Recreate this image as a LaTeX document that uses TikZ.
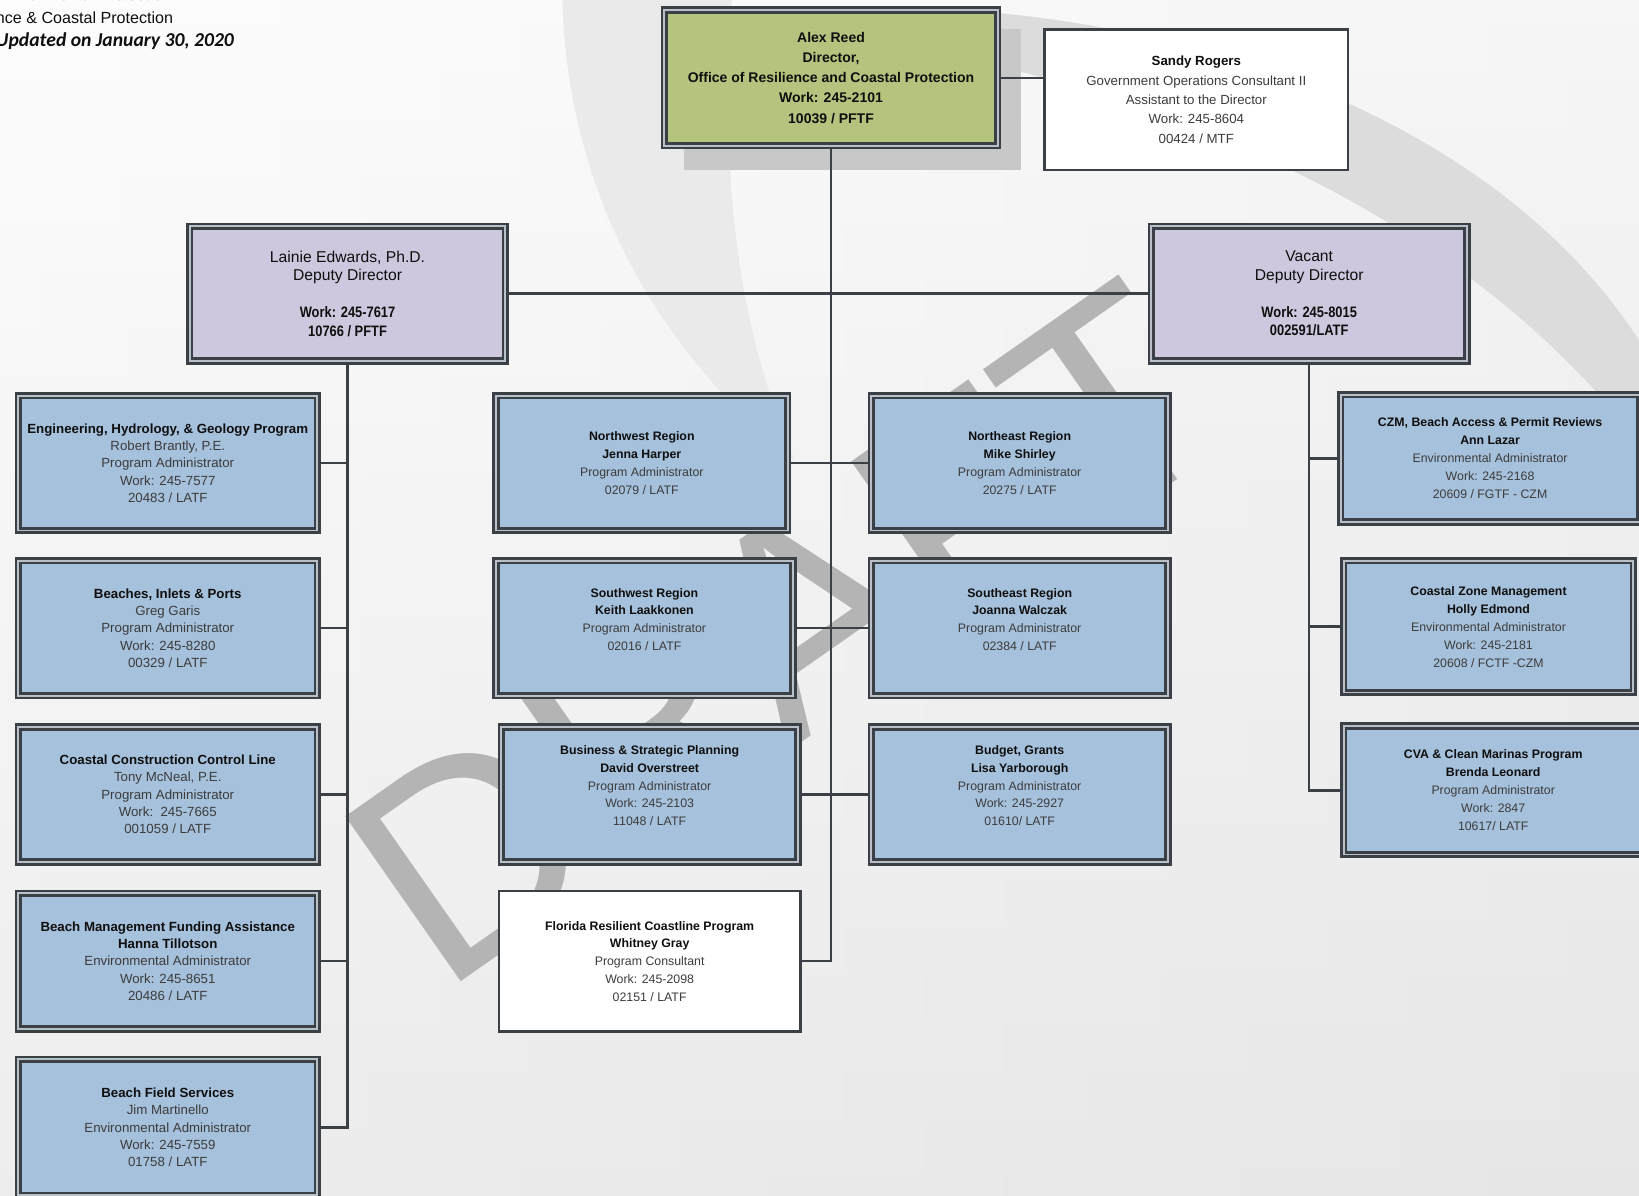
\documentclass[tikz,border=0pt]{standalone}
\usepackage{fontspec}
\setmainfont{Liberation Sans}
\newfontfamily\narfont{Liberation Sans}[FakeStretch=0.85]
\newfontfamily\calfont{Carlito}
\definecolor{dk}{RGB}{58,64,70}
\definecolor{gapc}{RGB}{186,192,200}
\definecolor{boxblue}{RGB}{166,193,220}
\definecolor{boxlav}{RGB}{206,200,222}
\definecolor{boxgreen}{RGB}{180,195,125}
\definecolor{shadowc}{RGB}{200,200,200}
\definecolor{tg}{RGB}{60,60,60}
\definecolor{tb}{RGB}{15,15,15}
\definecolor{wm}{RGB}{180,180,180}
\definecolor{bandA}{RGB}{220,220,220}
\definecolor{bandB}{RGB}{234,234,234}
\definecolor{bgtop}{RGB}{252,252,252}
\definecolor{bgbot}{RGB}{228,228,228}
\newcommand\hd[1]{\textcolor{tb}{\textbf{#1}}}
\newcommand\nb[1]{{\narfont\bfseries\fontsize{14.5}{17.7}\selectfont #1}}
\begin{document}
\begin{tikzpicture}[x=1pt,y=-1pt,
  conn/.style={draw=dk, line width=2.4pt},
  dbox/.style={draw=dk, double=gapc, double distance=1.8pt, line width=2.6pt,
    inner sep=0pt, outer sep=3.5pt, align=center, text=tg},
  bluebox/.style={dbox, fill=boxblue},
  lavbox/.style={dbox, fill=boxlav, text=tb, font=\fontsize{15}{17.7}\selectfont},
  sbox/.style={draw=dk, line width=2.2pt, fill=white, inner sep=0pt, outer sep=1.1pt,
    align=center, text=tg},
  dwh/.style 2 args={minimum width=#1-7, minimum height=#2-7},
  swh/.style 2 args={minimum width=#1-2.2, minimum height=#2-2.2},
  lft/.style={font=\fontsize{12.7}{16.6}\selectfont},
  mid/.style={font=\fontsize{11.8}{17}\selectfont},
  rgt/.style={font=\fontsize{11.8}{17.2}\selectfont},
  hdr/.style={anchor=base east, inner sep=0pt, text=tb}]
\useasboundingbox (0,0) rectangle (1568,1144);
\clip (0,0) rectangle (1568,1144);
% background
\shade[top color=bgtop, bottom color=bgbot] (0,0) rectangle (1568,1144);
\shade[left color=white, right color=white!92!black, opacity=0.35] (0,0) rectangle (1568,1144);
\fill[bandA] (950,12) .. controls (1200,35) and (1460,140) .. (1580,345)
  -- (1580,440) .. controls (1450,260) and (1230,130) .. (950,62) -- cycle;
\fill[bandB] (538,0) .. controls (542,160) and (610,320) .. (760,440)
  .. controls (700,300) and (690,150) .. (700,0) -- cycle;
% watermark
\node[anchor=base west, rotate=35, inner sep=0pt, text=wm,
  font=\fontsize{280}{280}\selectfont] (wmark) at (422,952) {DRAFT};
% header
\node[hdr, font=\fontsize{15.4}{16}\selectfont] (h1) at (164,0.8)
  {Florida Department of Environmental Protection};
\node[hdr, font=\fontsize{15.4}{16}\selectfont] (h2) at (165.8,22.3)
  {Office of Resilience \& Coastal Protection};
\node[hdr, font=\calfont\bfseries\itshape\fontsize{18.8}{20}\selectfont] (h3) at (224,44.7)
  {Updated on January 30, 2020};
% director
\fill[shadowc] (654,28) rectangle (977,163);
\node[dbox, fill=boxgreen, text=tb, dwh={326}{137},
  font=\bfseries\fontsize{13.4}{19.3}\selectfont] (alex) at (795,74.5)
  {Alex Reed\\Director,\\Office of Resilience and Coastal Protection\\Work: 245-2101\\10039 / PFTF};
\node[sbox, swh={293}{137}, font=\fontsize{12.7}{18.5}\selectfont] (sandy) at (1144.5,95.5)
  {\hd{Sandy Rogers}\\Government Operations Consultant II\\Assistant to the Director\\Work: 245-8604\\00424 / MTF};
% deputies
\node[lavbox, dwh={309}{136}] (lai) at (332.5,281)
  {Lainie Edwards, Ph.D.\\Deputy Director\\[17.7pt]\nb{Work: 245-7617}\\\nb{10766 / PFTF}};
\node[lavbox, dwh={309}{136}] (vac) at (1252.5,281)
  {Vacant\\Deputy Director\\[17.7pt]\nb{Work: 245-8015}\\\nb{002591/LATF}};
% left column
\node[bluebox, lft, dwh={293}{136}] (eng) at (160.5,443)
  {\hd{Engineering, Hydrology, \& Geology Program}\\Robert Brantly, P.E.\\Program Administrator\\Work: 245-7577\\20483 / LATF};
\node[bluebox, lft, dwh={293}{136}] (bip) at (160.5,601)
  {\hd{Beaches, Inlets \& Ports}\\Greg Garis\\Program Administrator\\Work: 245-8280\\00329 / LATF};
\node[bluebox, lft, dwh={293}{136}] (cccl) at (160.5,760)
  {\hd{Coastal Construction Control Line}\\Tony McNeal, P.E.\\Program Administrator\\Work:\ \ 245-7665\\001059 / LATF};
\node[bluebox, lft, dwh={293}{137}] (bmfa) at (160.5,919.5)
  {\hd{Beach Management Funding Assistance}\\\hd{Hanna Tillotson}\\Environmental Administrator\\Work: 245-8651\\20486 / LATF};
\node[bluebox, lft, dwh={293}{137}] (bfs) at (160.5,1078.5)
  {\hd{Beach Field Services}\\Jim Martinello\\Environmental Administrator\\Work: 245-7559\\01758 / LATF};
% middle columns
\node[bluebox, mid, dwh={286}{136}] (nw) at (614,443)
  {\hd{Northwest Region}\\\hd{Jenna Harper}\\Program Administrator\\02079 / LATF};
\node[bluebox, mid, dwh={291}{136}] (sw) at (616.5,601)
  {\hd{Southwest Region}\\\hd{Keith Laakkonen}\\Program Administrator\\02016 / LATF\\\mbox{}};
\node[bluebox, mid, dwh={291}{136}] (bsp) at (621.5,760)
  {\hd{Business \& Strategic Planning}\\\hd{David Overstreet}\\Program Administrator\\Work: 245-2103\\11048 / LATF\\\mbox{}};
\node[sbox, mid, swh={291}{137}] (flo) at (621.5,919.5)
  {\hd{Florida Resilient Coastline Program}\\\hd{Whitney Gray}\\Program Consultant\\Work: 245-2098\\02151 / LATF};
\node[bluebox, mid, dwh={291}{136}] (ne) at (975.5,443)
  {\hd{Northeast Region}\\\hd{Mike Shirley}\\Program Administrator\\20275 / LATF};
\node[bluebox, mid, dwh={291}{136}] (se) at (975.5,601)
  {\hd{Southeast Region}\\\hd{Joanna Walczak}\\Program Administrator\\02384 / LATF\\\mbox{}};
\node[bluebox, mid, dwh={291}{136}] (bud) at (975.5,760)
  {\hd{Budget, Grants}\\\hd{Lisa Yarborough}\\Program Administrator\\Work: 245-2927\\01610/ LATF\\\mbox{}};
% right column
\node[bluebox, rgt, dwh={293}{129}] (czm) at (1425.5,438.5)
  {\hd{CZM, Beach Access \& Permit Reviews}\\\hd{Ann Lazar}\\Environmental Administrator\\Work: 245-2168\\20609 / FGTF - CZM};
\node[bluebox, rgt, dwh={284}{133}] (czm2) at (1424,599.5)
  {\hd{Coastal Zone Management}\\\hd{Holly Edmond}\\Environmental Administrator\\Work: 245-2181\\20608 / FCTF -CZM};
\node[bluebox, rgt, dwh={293}{130}] (cva) at (1428.5,756)
  {\hd{CVA \& Clean Marinas Program}\\\hd{Brenda Leonard}\\Program Administrator\\Work: 2847\\10617/ LATF};
% connectors
\draw[conn] (alex.east) -- (alex.east -| sandy.west);
\draw[conn] (alex.south) |- (flo.east);
\draw[conn] (lai.east) -- (vac.west);
\draw[conn] (lai.south) |- (bfs.east);
\foreach \n in {eng,bip,cccl,bmfa} \draw[conn] (\n.east) -- (\n.east -| lai.south);
\draw[conn] (nw.east) -- (ne.west);
\draw[conn] (sw.east) -- (se.west);
\draw[conn] (bsp.east) -- (bud.west);
\draw[conn] (vac.south) |- (cva.west);
\foreach \n in {czm,czm2} \draw[conn] (\n.west) -- (\n.west -| vac.south);
\end{tikzpicture}
\end{document}
